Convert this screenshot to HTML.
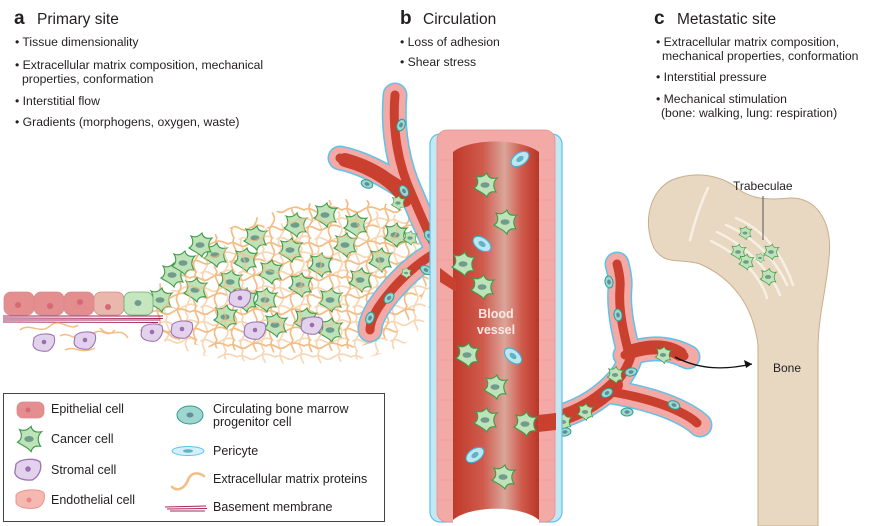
<!DOCTYPE html>
<html><head><meta charset="utf-8">
<style>
html,body{margin:0;padding:0;background:#fff;}
svg{display:block;}
text{font-family:"Liberation Sans",sans-serif;fill:#231f20;}
</style></head>
<body>
<svg width="870" height="526" viewBox="0 0 870 526" xmlns="http://www.w3.org/2000/svg">
<defs>
  <pattern id="ecm" width="38" height="34" patternUnits="userSpaceOnUse">
    <g fill="none" stroke="#f3bd86" stroke-width="1.7" stroke-linecap="round">
      <path d="M0,6 C8,1 12,12 19,7 S30,2 38,6"/>
      <path d="M2,24 C9,19 13,29 20,25 S31,20 36,23"/>
      <path d="M6,0 C2,8 12,12 7,19 S3,28 6,34"/>
      <path d="M27,0 C22,7 32,11 28,18 S23,27 27,34"/>
    </g>
  </pattern>
  <linearGradient id="lumen" x1="0" x2="1" y1="0" y2="0">
    <stop offset="0" stop-color="#c0392b"/>
    <stop offset="0.35" stop-color="#cf5b4c"/>
    <stop offset="0.6" stop-color="#dba59b"/>
    <stop offset="0.8" stop-color="#cf5b4c"/>
    <stop offset="1" stop-color="#b93627"/>
  </linearGradient>
  <g id="cc">
    <path d="M-11,3 C-7,1 -6,-4 -9,-9 C-4,-7 -1,-9 2,-12 C3,-7 7,-6 12,-7 C8,-3 8,2 11,7 C6,6 3,8 2,12 C-1,8 -5,7 -11,3 Z" fill="#bfe3b8" stroke="#3f9b4a" stroke-width="1.1"/>
    <ellipse cx="0" cy="0" rx="4.5" ry="2.8" fill="#6f9c8c"/>
  </g>
  <g id="pc">
    <ellipse cx="0" cy="0" rx="10" ry="6" fill="#bfe6f0" stroke="#3bb3dc" stroke-width="1.1"/>
    <ellipse cx="0" cy="0" rx="4" ry="2.5" fill="#5fb3c6"/>
  </g>
  <g id="bm">
    <ellipse cx="0" cy="0" rx="6" ry="4" fill="#9fd6cf" stroke="#2a9d94" stroke-width="1"/>
    <ellipse cx="0" cy="0" rx="2.5" ry="1.8" fill="#5d8f99"/>
  </g>
  <g id="st">
    <path d="M-10,-4 C-6,-9 6,-9 10,-6 C12,0 9,6 4,9 C-3,10 -10,8 -11,3 Z" fill="#e3d2ec" stroke="#9c74b6" stroke-width="1.1"/>
    <circle cx="0" cy="0" r="2.3" fill="#9c6cb1"/>
  </g>
</defs>

<!-- Headings -->
<text x="14" y="24" font-size="19" font-weight="bold">a</text>
<text x="37" y="24" font-size="15.5">Primary site</text>
<g font-size="12.2">
<text x="15" y="46">• Tissue dimensionality</text>
<text x="15" y="69">• Extracellular matrix composition, mechanical</text>
<text x="22" y="83">properties, conformation</text>
<text x="15" y="105">• Interstitial flow</text>
<text x="15" y="126">• Gradients (morphogens, oxygen, waste)</text>
</g>
<text x="400" y="24" font-size="19" font-weight="bold">b</text>
<text x="423" y="24" font-size="15.5">Circulation</text>
<g font-size="12.2">
<text x="400" y="46">• Loss of adhesion</text>
<text x="400" y="66">• Shear stress</text>
</g>
<text x="654" y="24" font-size="19" font-weight="bold">c</text>
<text x="677" y="24" font-size="15.5">Metastatic site</text>
<g font-size="12.2">
<text x="656" y="46">• Extracellular matrix composition,</text>
<text x="662" y="60">mechanical properties, conformation</text>
<text x="656" y="81">• Interstitial pressure</text>
<text x="656" y="103">• Mechanical stimulation</text>
<text x="661" y="117">(bone: walking, lung: respiration)</text>
</g>

<!-- Bone -->
<path d="M758,526 L758,345 C753,305 732,278 700,264 C682,258 664,266 654,248 C642,222 650,190 672,180 C697,170 722,176 737,188 C752,200 770,200 790,198 C815,197 833,220 829,258 C826,292 819,312 818,345 L818,526 Z" fill="#e8d8c1" stroke="#c9ae8c" stroke-width="1"/>
<g fill="none" stroke="#f7efe3" stroke-width="2.5" stroke-linecap="round">
  <path d="M690,240 C695,220 700,205 708,188"/>
  <path d="M711,241 C740,255 760,275 767,298"/>
  <path d="M717,232 C745,245 770,270 780,295"/>
  <path d="M726,225 C752,236 775,258 787,285"/>
  <path d="M736,218 C760,228 780,248 793,285"/>
</g>
<use href="#cc" transform="translate(745,233) scale(0.55)"/>
<use href="#cc" transform="translate(738,252) scale(0.65)"/>
<use href="#cc" transform="translate(771,252) scale(0.65)"/>
<use href="#cc" transform="translate(746,262) scale(0.65)"/>
<use href="#cc" transform="translate(768,277) scale(0.7)"/>
<use href="#cc" transform="translate(760,258) scale(0.4)"/>
<line x1="763" y1="196" x2="763" y2="240" stroke="#555" stroke-width="1"/>
<text x="733" y="190" font-size="12">Trabeculae</text>
<text x="773" y="372" font-size="12">Bone</text>

<!-- ECM and tissue -->
<path d="M150,300 C165,270 190,245 220,232 C250,218 290,205 330,200 C370,196 405,205 425,225 C440,250 430,300 400,330 C370,350 320,355 260,352 C220,350 180,345 155,330 Z" fill="url(#ecm)"/>
<g>
<use href="#cc" x="172" y="275"/><use href="#cc" x="183" y="263"/><use href="#cc" x="195" y="290"/>
<use href="#cc" x="215" y="255"/><use href="#cc" x="200" y="245"/><use href="#cc" x="230" y="282"/>
<use href="#cc" x="245" y="260"/><use href="#cc" x="225" y="317"/><use href="#cc" x="255" y="238"/>
<use href="#cc" x="270" y="272"/><use href="#cc" x="265" y="300"/><use href="#cc" x="290" y="250"/>
<use href="#cc" x="300" y="285"/><use href="#cc" x="295" y="225"/><use href="#cc" x="320" y="265"/>
<use href="#cc" x="330" y="300"/><use href="#cc" x="345" y="245"/><use href="#cc" x="360" y="280"/>
<use href="#cc" x="355" y="225"/><use href="#cc" x="380" y="260"/><use href="#cc" x="305" y="320"/>
<use href="#cc" x="330" y="330"/><use href="#cc" x="275" y="325"/><use href="#cc" x="245" y="300"/>
<use href="#cc" x="325" y="215"/><use href="#cc" x="395" y="235"/><use href="#cc" x="160" y="300"/>
</g>
<path d="M150,300 C165,270 190,245 220,232 C250,218 290,205 330,200 C370,196 405,205 425,225 C440,250 430,300 400,330 C370,350 320,355 260,352 C220,350 180,345 155,330 Z" fill="url(#ecm)" opacity="0.6" transform="translate(9,11)"/>
<use href="#st" x="255" y="330"/><use href="#st" x="312" y="325"/><use href="#st" x="240" y="298"/>
<!-- epithelium -->
<g stroke="#d98a8a" stroke-width="0.8">
<rect x="4" y="292" width="30" height="23" rx="7" fill="#e58e90"/>
<rect x="34" y="292" width="30" height="23" rx="7" fill="#e58e90"/>
<rect x="64" y="292" width="30" height="23" rx="7" fill="#e48d8f"/>
<rect x="94" y="292" width="30" height="23" rx="7" fill="#eab7ad"/>
<rect x="124" y="292" width="29" height="23" rx="7" fill="#c6e6c0" stroke="#6fae6a"/>
</g>
<g fill="#d46a73"><circle cx="18" cy="305" r="3"/><circle cx="50" cy="306" r="3"/><circle cx="80" cy="302" r="3"/><circle cx="108" cy="307" r="3"/></g>
<ellipse cx="138" cy="303" rx="3.5" ry="3" fill="#6f9c8c"/>
<g stroke="#a3285e" stroke-width="0.9">
<line x1="3" y1="316" x2="163" y2="316"/><line x1="3" y1="318" x2="163" y2="318.5"/>
<line x1="3" y1="320" x2="160" y2="320"/><line x1="3" y1="322" x2="158" y2="322.5"/>
</g>
<g fill="none" stroke="#f3bd86" stroke-width="1.5">
<path d="M20,330 C30,322 40,335 50,326 S70,332 78,325"/><path d="M60,336 C70,330 75,345 90,335 S105,340 115,330"/>
<path d="M100,328 C110,340 120,325 128,338"/><path d="M140,330 C150,338 160,325 170,335 S185,330 195,340"/>
<path d="M65,350 C75,345 80,355 95,348"/>
</g>
<use href="#st" x="44" y="342"/><use href="#st" x="85" y="340"/><use href="#st" x="152" y="332"/><use href="#st" x="182" y="329"/>

<!-- left branch vessel -->
<g fill="none" stroke-linecap="round" stroke-linejoin="round">
 <g stroke="#5cc3ea" stroke-width="25">
  <path d="M395,95 C392,130 398,165 412,195 C425,225 438,258 458,282"/>
  <path d="M340,158 C360,162 380,172 400,185"/>
  <path d="M432,255 C410,268 390,290 378,308 C372,318 370,325 370,330"/>
 </g>
 <g stroke="#f3a9a6" stroke-width="22">
  <path d="M395,95 C392,130 398,165 412,195 C425,225 438,258 458,282"/>
  <path d="M340,158 C360,162 380,172 400,185"/>
  <path d="M432,255 C410,268 390,290 378,308 C372,318 370,325 370,330"/>
 </g>
 <g stroke="#c9402f" stroke-width="9">
  <path d="M395,95 C392,130 398,165 412,195 C425,225 438,258 458,282"/>
  <path d="M340,158 C360,162 380,172 400,185"/>
  <path d="M432,255 C410,268 390,290 378,308 C372,318 370,325 370,330"/>
 </g>
 <path d="M345,160 C375,168 398,185 405,200" stroke="#c9402f" stroke-width="14"/>
</g>
<use href="#bm" transform="translate(401,125) rotate(-70)"/><use href="#bm" transform="translate(367,184) rotate(20)"/>
<use href="#bm" transform="translate(404,191) rotate(60)"/><use href="#bm" transform="translate(429,236) rotate(60)"/>
<use href="#bm" transform="translate(389,298) rotate(-50)"/><use href="#bm" transform="translate(370,318) rotate(-70)"/>
<use href="#bm" transform="translate(426,270) rotate(30)"/>
<use href="#cc" transform="translate(398,203) scale(0.6)"/><use href="#cc" transform="translate(410,238) scale(0.6)"/>
<use href="#cc" transform="translate(438,268) scale(0.6)"/><use href="#cc" transform="translate(406,273) scale(0.45)"/>

<!-- right branch vessel -->
<g fill="none" stroke-linecap="round" stroke-linejoin="round">
 <g stroke="#5cc3ea" stroke-width="25">
  <path d="M545,420 C575,415 600,400 618,380 C628,368 632,355 632,350"/>
  <path d="M630,358 C624,335 618,310 620,288 C621,278 618,268 617,264"/>
  <path d="M625,355 C645,348 665,345 688,357"/>
  <path d="M612,392 C635,396 660,402 680,412 C690,417 696,421 700,425"/>
 </g>
 <g stroke="#f3a9a6" stroke-width="22">
  <path d="M545,420 C575,415 600,400 618,380 C628,368 632,355 632,350"/>
  <path d="M630,358 C624,335 618,310 620,288 C621,278 618,268 617,264"/>
  <path d="M625,355 C645,348 665,345 688,357"/>
  <path d="M612,392 C635,396 660,402 680,412 C690,417 696,421 700,425"/>
 </g>
 <g stroke="#c9402f" stroke-width="9">
  <path d="M540,425 C575,418 600,402 618,380 C628,368 632,355 632,350"/>
  <path d="M630,358 C624,335 618,310 620,288 C621,278 618,268 617,264"/>
  <path d="M625,355 C645,348 665,345 684,356"/>
  <path d="M612,392 C635,396 660,402 680,412 C690,417 694,420 697,423"/>
 </g>
 <path d="M545,422 C575,416 598,402 615,385" stroke="#c9402f" stroke-width="16"/>
 <path d="M630,352 C650,345 668,346 680,354" stroke="#c9402f" stroke-width="14"/>
</g>
<use href="#cc" transform="translate(563,422) scale(0.7)"/><use href="#cc" transform="translate(585,412) scale(0.7)"/>
<use href="#cc" transform="translate(615,375) scale(0.7)"/><use href="#cc" transform="translate(663,355) scale(0.7)"/>
<use href="#bm" transform="translate(607,393) rotate(-30)"/><use href="#bm" transform="translate(631,372) rotate(-10)"/>
<use href="#bm" transform="translate(618,315) rotate(80)"/><use href="#bm" transform="translate(609,282) rotate(80)"/>
<use href="#bm" transform="translate(627,412) rotate(0)"/><use href="#bm" transform="translate(674,405) rotate(20)"/>
<use href="#bm" transform="translate(565,432) rotate(-10)"/>
<path d="M675,357 C700,370 725,370 752,364" fill="none" stroke="#111" stroke-width="1.3"/>
<path d="M752,364 L744,360 L746,368 Z" fill="#111"/>

<!-- main vessel -->
<rect x="430" y="134" width="132" height="388" rx="10" fill="#c3e8f4" stroke="#5cc3ea" stroke-width="1.2"/>
<rect x="437" y="130" width="118" height="392" rx="10" fill="#f3a9a6" stroke="#e88e8e" stroke-width="0.8"/>
<g stroke="#ee9a98" stroke-width="0.7">
 <line x1="437" y1="160" x2="453" y2="160"/><line x1="437" y1="180" x2="453" y2="180"/><line x1="437" y1="200" x2="453" y2="200"/>
 <line x1="437" y1="220" x2="453" y2="220"/><line x1="437" y1="240" x2="453" y2="240"/><line x1="437" y1="260" x2="453" y2="260"/>
 <line x1="437" y1="300" x2="453" y2="300"/><line x1="437" y1="320" x2="453" y2="320"/><line x1="437" y1="340" x2="453" y2="340"/>
 <line x1="437" y1="360" x2="453" y2="360"/><line x1="437" y1="380" x2="453" y2="380"/><line x1="437" y1="400" x2="453" y2="400"/>
 <line x1="437" y1="420" x2="453" y2="420"/><line x1="437" y1="440" x2="453" y2="440"/><line x1="437" y1="460" x2="453" y2="460"/>
 <line x1="437" y1="480" x2="453" y2="480"/><line x1="437" y1="500" x2="453" y2="500"/>
 <line x1="539" y1="160" x2="555" y2="160"/><line x1="539" y1="180" x2="555" y2="180"/><line x1="539" y1="200" x2="555" y2="200"/>
 <line x1="539" y1="220" x2="555" y2="220"/><line x1="539" y1="240" x2="555" y2="240"/><line x1="539" y1="260" x2="555" y2="260"/>
 <line x1="539" y1="280" x2="555" y2="280"/><line x1="539" y1="300" x2="555" y2="300"/><line x1="539" y1="320" x2="555" y2="320"/>
 <line x1="539" y1="340" x2="555" y2="340"/><line x1="539" y1="360" x2="555" y2="360"/><line x1="539" y1="380" x2="555" y2="380"/>
 <line x1="539" y1="400" x2="555" y2="400"/><line x1="539" y1="440" x2="555" y2="440"/><line x1="539" y1="460" x2="555" y2="460"/>
 <line x1="539" y1="480" x2="555" y2="480"/><line x1="539" y1="500" x2="555" y2="500"/>
</g>
<path d="M453,522 L453,152 C470,138 520,138 539,152 L539,522 Z" fill="url(#lumen)"/>
<path d="M453,523 L453,520 C470,505 522,505 539,520 L539,523 Z" fill="#fff"/>
<path d="M440,268 L456,280 L456,292 L440,282 Z" fill="#c9402f"/>
<path d="M538,415 L556,413 L556,430 L538,432 Z" fill="#c9402f"/>
<use href="#cc" x="485" y="185"/><use href="#cc" x="505" y="222"/><use href="#cc" x="482" y="287"/>
<use href="#cc" x="463" y="264"/><use href="#cc" x="467" y="355"/><use href="#cc" x="495" y="387"/>
<use href="#cc" x="485" y="420"/><use href="#cc" x="525" y="424"/><use href="#cc" x="503" y="477"/>
<use href="#pc" transform="translate(520,159) rotate(-35)"/><use href="#pc" transform="translate(482,244) rotate(35)"/>
<use href="#pc" transform="translate(513,356) rotate(40)"/><use href="#pc" transform="translate(475,455) rotate(-35)"/>
<text x="496" y="318" font-size="12.5" font-weight="bold" text-anchor="middle" style="fill:#fbe9e6">Blood</text>
<text x="496" y="334" font-size="12.5" font-weight="bold" text-anchor="middle" style="fill:#fbe9e6">vessel</text>

<!-- Legend -->
<rect x="3.5" y="393.5" width="381" height="128" fill="#fff" stroke="#444" stroke-width="1"/>
<rect x="17" y="402" width="27" height="16" rx="6" fill="#e58e90" stroke="#d98a8a" stroke-width="0.8"/>
<circle cx="28" cy="410" r="2.5" fill="#d46a73"/>
<use href="#cc" transform="translate(29,439) scale(1.05)"/>
<use href="#st" transform="translate(28,469) scale(1.2)"/>
<path d="M16,495 C20,489 40,488 44,493 C46,500 42,507 36,508 C28,509 18,508 16,503 Z" fill="#f6b9b1" stroke="#ec8f8c" stroke-width="0.9"/>
<circle cx="29" cy="500" r="2.5" fill="#ec8584"/>
<g font-size="12.5">
<text x="51" y="413">Epithelial cell</text>
<text x="51" y="443">Cancer cell</text>
<text x="51" y="474">Stromal cell</text>
<text x="51" y="504">Endothelial cell</text>
<text x="213" y="413">Circulating bone marrow</text>
<text x="213" y="426">progenitor cell</text>
<text x="213" y="455">Pericyte</text>
<text x="213" y="483">Extracellular matrix proteins</text>
<text x="213" y="511">Basement membrane</text>
</g>
<g transform="translate(190,415)"><ellipse cx="0" cy="0" rx="13" ry="9" fill="#9fd6cf" stroke="#2a9d94" stroke-width="1"/><ellipse cx="0" cy="0" rx="3.5" ry="2.5" fill="#5d8f99"/></g>
<g transform="translate(188,451)"><ellipse cx="0" cy="0" rx="16" ry="4.5" fill="#d3effa" stroke="#5cc3ea" stroke-width="1"/><ellipse cx="0" cy="0" rx="5" ry="1.7" fill="#5fb3c6"/></g>
<path d="M172,487 C178,492 185,488 188,480 C191,472 198,472 204,476" fill="none" stroke="#f3bd86" stroke-width="2.5" stroke-linecap="round"/>
<g stroke="#a3285e" stroke-width="0.9"><line x1="165" y1="507" x2="206" y2="506"/><line x1="167" y1="509" x2="207" y2="508.5"/><line x1="170" y1="511" x2="205" y2="511"/></g>
</svg>
</body></html>
